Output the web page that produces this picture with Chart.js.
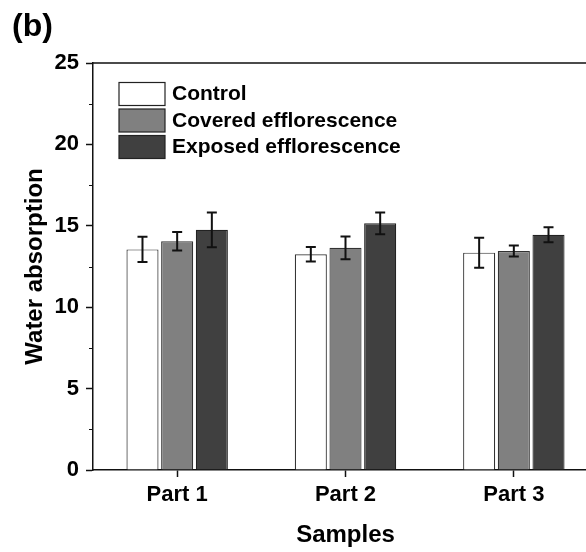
<!DOCTYPE html>
<html>
<head>
<meta charset="utf-8">
<script src="https://cdn.jsdelivr.net/npm/chart.js@4/dist/chart.umd.min.js"></script>
<style>
  html, body { margin: 0; padding: 0; background: #fff; overflow: hidden; }
  #wrap { width: 600px; height: 552px; position: relative; }
</style>
</head>
<body>
<div id="wrap"><canvas id="grafico"></canvas></div>
<script>
const categorias = ['Part 1', 'Part 2', 'Part 3'];
const controle = [13.55, 13.25, 13.35];
const cobertas = [14.05, 13.65, 13.45];
const expostas = [14.75, 15.15, 14.45];
const erroControle = [0.77, 0.45, 0.92];
const erroCobertas = [0.57, 0.70, 0.34];
const erroExpostas = [1.07, 0.67, 0.46];
const ticksMenores = [2.5, 7.5, 12.5, 17.5, 22.5];

const fonte = '"Liberation Sans", Arial, sans-serif';

const extras = {
    id: 'extras',
    afterDatasetsDraw(chart) {
        const ctx = chart.ctx;
        const y = chart.scales.y;
        ctx.save();
        ctx.strokeStyle = '#111';
        ctx.lineWidth = 2;
        chart.data.datasets.forEach(function (ds, i) {
            const meta = chart.getDatasetMeta(i);
            meta.data.forEach(function (bar, j) {
                const v = ds.data[j], e = ds.erros[j];
                const yt = y.getPixelForValue(v + e), yb = y.getPixelForValue(v - e);
                ctx.beginPath();
                ctx.moveTo(bar.x, yt); ctx.lineTo(bar.x, yb);
                ctx.moveTo(bar.x - 5, yt); ctx.lineTo(bar.x + 5, yt);
                ctx.moveTo(bar.x - 5, yb); ctx.lineTo(bar.x + 5, yb);
                ctx.stroke();
            });
        });
        ctx.restore();
    },
    afterDraw(chart) {
        const ctx = chart.ctx;
        const a = chart.chartArea;
        const y = chart.scales.y;
        ctx.save();
        // moldura superior e direita
        ctx.strokeStyle = '#111';
        ctx.lineWidth = 1.5;
        ctx.beginPath();
        ctx.moveTo(a.left, a.top); ctx.lineTo(a.right, a.top); ctx.lineTo(a.right, a.bottom);
        ctx.stroke();
        // ticks menores
        ctx.lineWidth = 1;
        ticksMenores.forEach(function (v) {
            const py = Math.round(y.getPixelForValue(v)) + 0.5;
            ctx.beginPath();
            ctx.moveTo(a.left - 4, py); ctx.lineTo(a.left, py);
            ctx.stroke();
        });
        // legenda
        ctx.font = 'bold 21px ' + fonte;
        ctx.textBaseline = 'middle';
        ctx.fillStyle = '#000';
        chart.data.datasets.forEach(function (ds, i) {
            const by = 82.5 + i * 26.5;
            ctx.fillStyle = ds.backgroundColor;
            ctx.fillRect(119, by, 46, 23);
            ctx.strokeStyle = '#222';
            ctx.lineWidth = 1.2;
            ctx.strokeRect(119, by, 46, 23);
            ctx.fillStyle = '#000';
            ctx.fillText(ds.label, 172, by + 12);
        });
        // rótulo do painel
        ctx.font = 'bold 32px ' + fonte;
        ctx.textBaseline = 'alphabetic';
        ctx.fillText('(b)', 12, 36);
        ctx.restore();
    }
};

document.addEventListener("DOMContentLoaded", function () {
    const ctx = document.getElementById("grafico").getContext("2d");

    new Chart(ctx, {
        type: 'bar',
        data: {
            labels: categorias,
            datasets: [
                { label: 'Control', data: controle, erros: erroControle,
                  backgroundColor: '#ffffff', borderColor: '#333', borderWidth: 1.2 },
                { label: 'Covered efflorescence', data: cobertas, erros: erroCobertas,
                  backgroundColor: '#808080', borderColor: '#333', borderWidth: 1.2 },
                { label: 'Exposed efflorescence', data: expostas, erros: erroExpostas,
                  backgroundColor: '#404040', borderColor: '#222', borderWidth: 1.2 }
            ]
        },
        options: {
            responsive: true,
            maintainAspectRatio: false,
            animation: false,
            categoryPercentage: 0.618,
            barPercentage: 0.925,
            layout: { padding: { top: 63, right: 2, left: 0, bottom: 0 } },
            plugins: {
                legend: { display: false },
                tooltip: { enabled: false }
            },
            scales: {
                x: {
                    offset: true,
                    grid: { display: true, drawOnChartArea: false, offset: false,
                            tickLength: 7, tickColor: '#111', tickWidth: 1.5 },
                    border: { display: true, color: '#111', width: 1.5 },
                    ticks: { color: '#000', padding: 5, font: { family: fonte, size: 22, weight: 'bold' } },
                    title: { display: true, text: 'Samples', color: '#000',
                             padding: { top: 0, bottom: 2 },
                             font: { family: fonte, size: 24, weight: 'bold' } },
                    afterFit: function (s) { s.height = 82; }
                },
                y: {
                    min: 0,
                    max: 25,
                    ticks: { stepSize: 5, color: '#000', padding: 7,
                             font: { family: fonte, size: 22, weight: 'bold' } },
                    grid: { display: true, drawOnChartArea: false,
                            tickLength: 7, tickColor: '#111', tickWidth: 1.5 },
                    border: { display: true, color: '#111', width: 1.5 },
                    title: { display: true, text: 'Water absorption', color: '#000',
                             padding: { top: 21, bottom: 0 },
                             font: { family: fonte, size: 24, weight: 'bold' } },
                    afterFit: function (s) { s.width = 93; }
                }
            }
        },
        plugins: [extras]
    });
});
</script>
</body>
</html>
